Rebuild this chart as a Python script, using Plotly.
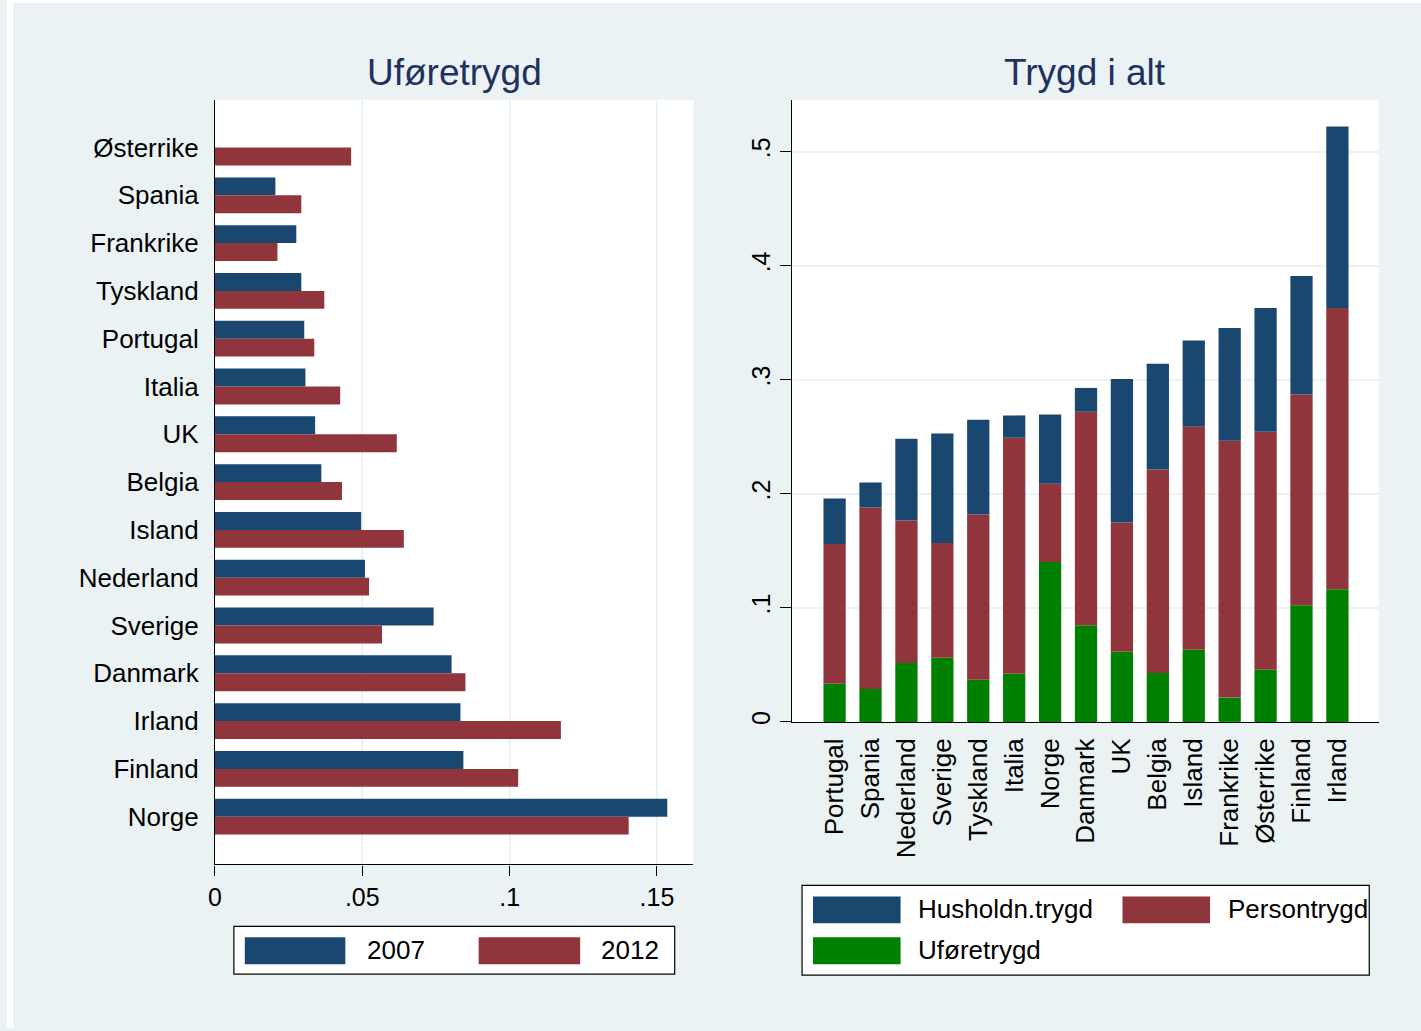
import numpy as np
import plotly.graph_objects as go

# ---------------- data ----------------
# Left panel: Uføretrygd 2007 vs 2012 (display order top -> bottom)
left_countries = ["Østerrike", "Spania", "Frankrike", "Tyskland", "Portugal", "Italia", "UK",
                  "Belgia", "Island", "Nederland", "Sverige", "Danmark", "Irland", "Finland", "Norge"]
ufore_2007 = [None, 0.0205, 0.0276, 0.0293, 0.0303, 0.0307, 0.0340,
              0.0361, 0.0496, 0.0509, 0.0742, 0.0803, 0.0833, 0.0843, 0.1535]
ufore_2012 = [0.0462, 0.0293, 0.0212, 0.0371, 0.0337, 0.0425, 0.0617,
              0.0431, 0.0641, 0.0523, 0.0567, 0.0850, 0.1174, 0.1029, 0.1404]

# Right panel: Trygd i alt (stacked segments)
right_countries = ["Portugal", "Spania", "Nederland", "Sverige", "Tyskland", "Italia", "Norge",
                   "Danmark", "UK", "Belgia", "Island", "Frankrike", "Østerrike", "Finland", "Irland"]
seg_ufore = [0.0335, 0.0288, 0.0516, 0.0562, 0.0370, 0.0422, 0.1402,
             0.0848, 0.0615, 0.0428, 0.0632, 0.0213, 0.0457, 0.1023, 0.1163]
seg_person = [0.1224, 0.1591, 0.1250, 0.1006, 0.1448, 0.2069, 0.0687,
              0.1871, 0.1133, 0.1784, 0.1955, 0.2252, 0.2087, 0.1847, 0.2465]
seg_hush = [0.0399, 0.0219, 0.0717, 0.0961, 0.0831, 0.0196, 0.0606,
            0.0209, 0.1259, 0.0929, 0.0756, 0.0988, 0.1084, 0.1040, 0.1592]

left_ticks = [0, 0.05, 0.1, 0.15]
left_ticktext = ["0", ".05", ".1", ".15"]
right_ticks = [0, 0.1, 0.2, 0.3, 0.4, 0.5]
right_ticktext = ["0", ".1", ".2", ".3", ".4", ".5"]

# ---------------- style ----------------
W, H = 1421, 1031
NAVY = "#1A476F"
MAROON = "#90353B"
GREEN = "#008000"
BG = "#EAF2F3"
TITLE_C = "#1E3160"
FONT = "Liberation Sans, Arial, Helvetica, sans-serif"


def fx(p):
    return p / W


def fy(p):
    return 1 - p / H


fig = go.Figure()

# Left panel bars
fig.add_trace(go.Bar(y=left_countries, x=ufore_2007, orientation="h", name="2007",
                     marker=dict(color=NAVY, line=dict(width=0)), xaxis="x", yaxis="y",
                     showlegend=False))
fig.add_trace(go.Bar(y=left_countries, x=ufore_2012, orientation="h", name="2012",
                     marker=dict(color=MAROON, line=dict(width=0)), xaxis="x", yaxis="y",
                     showlegend=False))

# Right panel stacked bars (manual stacking via base)
u = np.array(seg_ufore)
p = np.array(seg_person)
h = np.array(seg_hush)
bw = 0.62
fig.add_trace(go.Bar(x=right_countries, y=u, base=np.zeros_like(u), name="Uføretrygd",
                     marker=dict(color=GREEN, line=dict(width=0)), width=bw, offset=-bw / 2,
                     xaxis="x2", yaxis="y2", showlegend=False))
fig.add_trace(go.Bar(x=right_countries, y=p, base=u, name="Persontrygd",
                     marker=dict(color=MAROON, line=dict(width=0)), width=bw, offset=-bw / 2,
                     xaxis="x2", yaxis="y2", showlegend=False))
fig.add_trace(go.Bar(x=right_countries, y=h, base=u + p, name="Husholdn.trygd",
                     marker=dict(color=NAVY, line=dict(width=0)), width=bw, offset=-bw / 2,
                     xaxis="x2", yaxis="y2", showlegend=False))

shapes = []
annotations = []

# titles
annotations.append(dict(text="Uføretrygd", x=fx(449.3), y=fy(73), xref="paper", yref="paper",
                        xanchor="center", yanchor="middle", showarrow=False,
                        font=dict(size=37, color=TITLE_C, family=FONT)))
annotations.append(dict(text="Trygd i alt", x=fx(1083.7), y=fy(73), xref="paper", yref="paper",
                        xanchor="center", yanchor="middle", showarrow=False,
                        font=dict(size=37, color=TITLE_C, family=FONT)))


def box(x0, y0, x1, y1):
    shapes.append(dict(type="rect", xref="paper", yref="paper", x0=fx(x0), x1=fx(x1),
                       y0=fy(y1), y1=fy(y0), line=dict(color="black", width=1.2),
                       fillcolor="white", layer="above"))


def swatch(x0, y0, x1, y1, color):
    shapes.append(dict(type="rect", xref="paper", yref="paper", x0=fx(x0), x1=fx(x1),
                       y0=fy(y1), y1=fy(y0), line=dict(width=0), fillcolor=color, layer="above"))


def label(text, x, y):
    annotations.append(dict(text=text, x=fx(x), y=fy(y), xref="paper", yref="paper",
                            xanchor="left", yanchor="middle", showarrow=False,
                            font=dict(size=26, color="black", family=FONT)))


# left legend
box(228, 929, 671, 977)
swatch(239, 940, 340, 967, NAVY)
label("2007", 360, 953)
swatch(474, 940, 576, 967, MAROON)
label("2012", 595, 953)

# right legend
box(799, 888, 1369, 978)
swatch(810, 899, 898, 926, NAVY)
label("Husholdn.trygd", 914, 912)
swatch(1121, 899, 1209, 926, MAROON)
label("Persontrygd", 1225, 912)
swatch(810, 940, 898, 967, GREEN)
label("Uføretrygd", 914, 953)

# thin white border at the left and top edge of the image
shapes.append(dict(type="rect", xref="paper", yref="paper", x0=0, x1=fx(6), y0=0, y1=1,
                   line=dict(width=0), fillcolor="white", layer="above"))
shapes.append(dict(type="rect", xref="paper", yref="paper", x0=0, x1=1, y0=fy(3), y1=1,
                   line=dict(width=0), fillcolor="white", layer="above"))

axis_font = dict(size=26, color="black", family=FONT)
num_font = dict(size=25, color="black", family=FONT)

fig.update_layout(
    width=W, height=H,
    margin=dict(l=0, r=0, t=0, b=0),
    paper_bgcolor=BG,
    plot_bgcolor="white",
    barmode="group",
    bargap=0.25,
    bargroupgap=0,
    font=dict(family=FONT, color="black"),
    showlegend=False,
    shapes=shapes,
    annotations=annotations,
    xaxis=dict(domain=[fx(209), fx(689.6)], anchor="y", range=[0, 0.1623],
               tickvals=left_ticks, ticktext=left_ticktext, tickfont=num_font,
               ticks="outside", ticklen=10, tickwidth=1.2, tickcolor="black",
               showline=True, linecolor="black", linewidth=1.2,
               showgrid=True, gridcolor=BG, gridwidth=2, zeroline=False, fixedrange=True),
    yaxis=dict(domain=[fy(867), fy(100)], anchor="x", type="category",
               categoryorder="array", categoryarray=left_countries, range=[15, -1],
               tickfont=axis_font, ticks="outside", ticklen=10, tickcolor="rgba(0,0,0,0)",
               showline=True, linecolor="black", linewidth=1.2,
               showgrid=False, zeroline=False, fixedrange=True),
    xaxis2=dict(domain=[fx(789), fx(1378.5)], anchor="y2", type="category",
                categoryorder="array", categoryarray=right_countries, range=[-1.183, 15.15],
                tickfont=axis_font, tickangle=-90, ticks="outside", ticklen=5,
                tickcolor="rgba(0,0,0,0)",
                showline=True, linecolor="black", linewidth=1.2,
                showgrid=False, zeroline=False, fixedrange=True),
    yaxis2=dict(domain=[fy(724), fy(100)], anchor="x2", range=[0, 0.5455],
                tickvals=right_ticks, ticktext=right_ticktext, tickfont=num_font,
                tickangle=-90, ticks="outside", ticklen=11, tickwidth=1.2, tickcolor="black",
                showline=True, linecolor="black", linewidth=1.2,
                showgrid=True, gridcolor=BG, gridwidth=2, zeroline=False, fixedrange=True),
)

fig.write_html("out.html", config={"displayModeBar": False},
               post_script="document.body.style.margin='0';document.body.style.overflow='hidden';")
